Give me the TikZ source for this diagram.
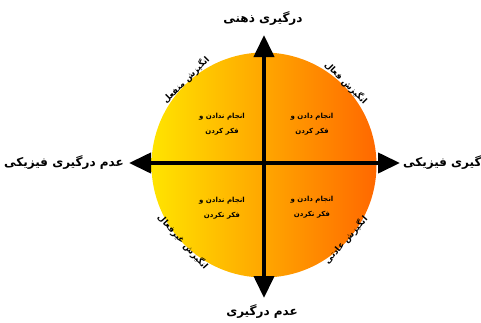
\documentclass[tikz,border=0pt]{standalone}
\usepackage{fontspec}
\TeXXeTstate=1
\newfontfamily\arabicfont[Script=Arabic]{DejaVu Sans}
\usetikzlibrary{arrows.meta}
\definecolor{gyellow}{RGB}{255,228,0}
\definecolor{gorange}{RGB}{255,104,0}
\tikzset{
  axisline/.style={line width=4pt,{Triangle[length=22pt,width=20pt]}-{Triangle[length=22pt,width=20pt]}},
  biglabel/.style={inner sep=0pt,font=\arabicfont\bfseries\fontsize{12}{14}\selectfont},
  arclabel/.style={inner sep=0pt,font=\arabicfont\bfseries\fontsize{8.5}{10}\selectfont},
  quadlabel/.style={inner sep=0pt,align=center,font=\arabicfont\bfseries\fontsize{7}{15}\selectfont}
}
\begin{document}
\begin{tikzpicture}[x=1pt,y=-1pt]
\useasboundingbox (0,0) rectangle (481,322);
\node[circle,minimum size=225pt,inner sep=0pt,left color=gyellow,right color=gorange] (disc) at (264,165) {};
\coordinate (topTip) at (264,35);
\coordinate (bottomTip) at (264,298);
\coordinate (leftTip) at (129,163);
\coordinate (rightTip) at (400,163);
\draw[axisline] (topTip) -- (bottomTip);
\draw[axisline] (leftTip) -- (rightTip);
\node[biglabel] (lblTop) at (263,19) {\beginR درگیری ذهنی\endR};
\node[biglabel] (lblBottom) at (262,311) {\beginR عدم درگیری\endR};
\node[biglabel] (lblLeft) at (64,163) {\beginR عدم درگیری فیزیکی\endR};
\node[biglabel,anchor=west] (lblRight) at (403,163) {\beginR درگیری فیزیکی\endR};
\node[arclabel,rotate=45] (arcTL) at (186,80) {\beginR انگیزش منفعل\endR};
\node[arclabel,rotate=-45] (arcTR) at (346,83) {\beginR انگیزش فعال\endR};
\node[arclabel,rotate=-48] (arcBL) at (183,242) {\beginR انگیزش غیرفعال\endR};
\node[arclabel,rotate=48] (arcBR) at (346,240) {\beginR انگیزش عادتی\endR};
\node[quadlabel] (qTL) at (222,124) {\beginR انجام ندادن و\endR\\\beginR فکر کردن\endR};
\node[quadlabel] (qTR) at (312,124) {\beginR انجام دادن و\endR\\\beginR فکر کردن\endR};
\node[quadlabel] (qBL) at (222,208) {\beginR انجام ندادن و\endR\\\beginR فکر نکردن\endR};
\node[quadlabel] (qBR) at (312,207) {\beginR انجام دادن و\endR\\\beginR فکر نکردن\endR};
\end{tikzpicture}
\end{document}
